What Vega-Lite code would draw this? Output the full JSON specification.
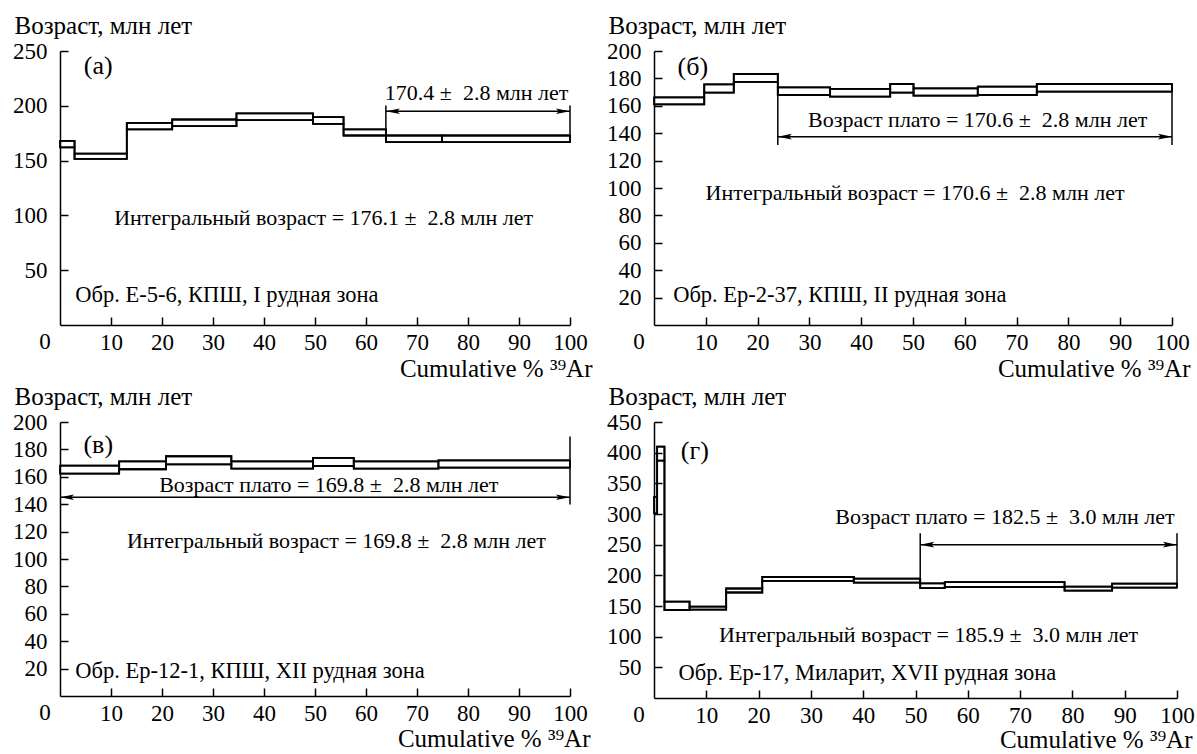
{
  "$schema": "https://vega.github.io/schema/vega-lite/v6.json",
  "padding": {"left": 12, "top": 13, "right": 0, "bottom": 0},
  "background": "white",
  "config": {
    "view": {"stroke": null},
    "font": "Liberation Serif, Times New Roman, DejaVu Serif, serif",
    "axis": {"grid": false, "domainColor": "black", "domainWidth": 1.5, "tickColor": "black", "tickWidth": 1.5,
      "labelColor": "black", "labelFont": "Liberation Serif, Times New Roman, DejaVu Serif, serif", "labelFontSize": 23, "labelOverlap": false, "labelFlush": false,
      "titleFont": "Liberation Serif, Times New Roman, DejaVu Serif, serif", "titleFontSize": 25, "titleFontWeight": "normal", "titleColor": "black"},
    "axisX": {"tickSize": -8, "labelPadding": 14, "titleAlign": "right", "titleY": 43, "titleBaseline": "middle", "titleFontSize": 25, "tickCount": 20},
    "axisY": {"tickSize": -8, "labelPadding": 21, "titleAngle": 0, "titleAlign": "left", "titleX": -46, "titleY": -26, "titleBaseline": "middle", "tickCount": 20},
    "text": {"font": "Liberation Serif, Times New Roman, DejaVu Serif, serif", "color": "black"}
  },
  "datasets": {
    "steps": [
      {"panel":"a","x0":0,"x1":2.85,"lo":162,"hi":168},
      {"panel":"a","x0":2.85,"x1":13.1,"lo":151.5,"hi":156.4},
      {"panel":"a","x0":13.1,"x1":22,"lo":178.4,"hi":184.5},
      {"panel":"a","x0":22,"x1":34.6,"lo":181.4,"hi":187.5},
      {"panel":"a","x0":34.6,"x1":49.6,"lo":187,"hi":193},
      {"panel":"a","x0":49.6,"x1":55.6,"lo":183.5,"hi":189.6},
      {"panel":"a","x0":55.6,"x1":63.9,"lo":172.9,"hi":178.4},
      {"panel":"a","x0":63.9,"x1":74.9,"lo":166.8,"hi":172.9},
      {"panel":"a","x0":74.9,"x1":100,"lo":166.8,"hi":172.9},
      {"panel":"b","x0":0,"x1":9.7,"lo":161.1,"hi":166.2},
      {"panel":"b","x0":9.7,"x1":15.4,"lo":169.6,"hi":175.7},
      {"panel":"b","x0":15.4,"x1":23.9,"lo":177.4,"hi":183.2},
      {"panel":"b","x0":23.9,"x1":34,"lo":167.9,"hi":173.5},
      {"panel":"b","x0":34,"x1":45.6,"lo":166.7,"hi":172.3},
      {"panel":"b","x0":45.6,"x1":50.1,"lo":169.6,"hi":175.9},
      {"panel":"b","x0":50.1,"x1":62.5,"lo":167.4,"hi":172.7},
      {"panel":"b","x0":62.5,"x1":73.9,"lo":167.9,"hi":174},
      {"panel":"b","x0":73.9,"x1":100,"lo":170.3,"hi":175.9},
      {"panel":"c","x0":0,"x1":11.6,"lo":162.3,"hi":168.2},
      {"panel":"c","x0":11.6,"x1":20.8,"lo":165.5,"hi":171.3},
      {"panel":"c","x0":20.8,"x1":33.6,"lo":169.1,"hi":175},
      {"panel":"c","x0":33.6,"x1":49.6,"lo":166,"hi":171.3},
      {"panel":"c","x0":49.6,"x1":57.6,"lo":167.9,"hi":173.8},
      {"panel":"c","x0":57.6,"x1":74.2,"lo":166,"hi":171.3},
      {"panel":"c","x0":74.2,"x1":100,"lo":166.7,"hi":172},
      {"panel":"d","x0":0,"x1":0.6,"lo":301,"hi":328},
      {"panel":"d","x0":0.6,"x1":2.0,"lo":387,"hi":410},
      {"panel":"d","x0":2.0,"x1":6.8,"lo":143.5,"hi":157},
      {"panel":"d","x0":6.8,"x1":13.8,"lo":144,"hi":149},
      {"panel":"d","x0":13.8,"x1":20.7,"lo":172,"hi":178.5},
      {"panel":"d","x0":20.7,"x1":38.2,"lo":191,"hi":197.3},
      {"panel":"d","x0":38.2,"x1":50.9,"lo":188,"hi":194.6},
      {"panel":"d","x0":50.9,"x1":55.6,"lo":179,"hi":187},
      {"panel":"d","x0":55.6,"x1":78.5,"lo":181,"hi":189},
      {"panel":"d","x0":78.5,"x1":87.6,"lo":175,"hi":181.7},
      {"panel":"d","x0":87.6,"x1":100,"lo":180,"hi":186.6}
    ],
    "arrows": [
      {"panel":"a","xa":63.9,"xb":100,"y":195},
      {"panel":"b","xa":23.9,"xb":100,"y":137.5},
      {"panel":"c","xa":0,"xb":100,"y":145.1},
      {"panel":"d","xa":50.9,"xb":100,"y":250}
    ],
    "ends": [
      {"panel":"a","x":63.9,"y1":166.8,"y2":200.3},
      {"panel":"a","x":100,"y1":166.8,"y2":200.3},
      {"panel":"b","x":23.9,"y1":131.4,"y2":173.5},
      {"panel":"b","x":100,"y1":131.4,"y2":175.9},
      {"panel":"c","x":100,"y1":139.7,"y2":189.5},
      {"panel":"d","x":50.9,"y1":187,"y2":268.8},
      {"panel":"d","x":100,"y1":180,"y2":268.8}
    ],
    "texts": [
      {"panel":"a","kind":"label","x":7.5,"y":236,"text":"(а)"},
      {"panel":"b","kind":"label","x":7.5,"y":188.6,"text":"(б)"},
      {"panel":"c","kind":"label","x":7.5,"y":183.5,"text":"(в)"},
      {"panel":"d","kind":"label","x":7.8,"y":403,"text":"(г)"},
      {"panel":"a","kind":"center","x":81.7,"y":212,"text":"170.4 ± \u00a02.8 млн лет"},
      {"panel":"a","kind":"center","x":51.7,"y":97.6,"text":"Интегральный возраст = 176.1 ± \u00a02.8 млн лет"},
      {"panel":"b","kind":"center","x":62.5,"y":149.6,"text":"Возраст плато = 170.6 ± \u00a02.8 млн лет"},
      {"panel":"b","kind":"center","x":50.4,"y":96,"text":"Интегральный возраст = 170.6 ± \u00a02.8 млн лет"},
      {"panel":"c","kind":"center","x":52.7,"y":154.3,"text":"Возраст плато = 169.8 ± \u00a02.8 млн лет"},
      {"panel":"c","kind":"center","x":54.2,"y":113,"text":"Интегральный возраст = 169.8 ± \u00a02.8 млн лет"},
      {"panel":"d","kind":"center","x":67.1,"y":295.7,"text":"Возраст плато = 182.5 ± \u00a03.0 млн лет"},
      {"panel":"d","kind":"center","x":52.5,"y":102,"text":"Интегральный возраст = 185.9 ± \u00a03.0 млн лет"},
      {"panel":"a","kind":"left","x":3.0,"y":27.4,"text":"Обр. Е-5-6, КПШ, I рудная зона"},
      {"panel":"b","kind":"left","x":3.7,"y":21.9,"text":"Обр. Ер-2-37, КПШ, II рудная зона"},
      {"panel":"c","kind":"left","x":3.0,"y":18.2,"text":"Обр. Ер-12-1, КПШ, XII рудная зона"},
      {"panel":"d","kind":"left","x":4.7,"y":40.3,"text":"Обр. Ер-17, Миларит, XVII рудная зона"}
    ]
  },
  "spacing": 3,
  "vconcat": [
    {"hconcat": [
      {"width": 510, "height": 274,
       "layer": [
        {"data": {"name": "steps"}, "transform": [{"filter": "datum.panel === 'a'"}],
         "mark": {"type": "rect", "filled": false, "color": "black", "strokeWidth": 1.8},
         "encoding": {
           "x": {"field": "x0", "type": "quantitative", "scale": {"domain": [0, 100], "nice": false}, "axis": {"title": "Cumulative % ³⁹Ar", "titleX": 532, "values": [10,20,30,40,50,60,70,80,90,100], "tickCount": 20, "labelOverlap": false, "tickSize": -8, "labelPadding": 14}},
           "x2": {"field": "x1"},
           "y": {"field": "lo", "type": "quantitative", "scale": {"domain": [0, 250], "nice": false}, "axis": {"title": "Возраст, млн лет", "values": [50,100,150,200,250], "tickCount": 20, "labelOverlap": false, "tickSize": -8, "labelPadding": 21}},
           "y2": {"field": "hi"}}},
        {"data": {"name": "steps"}, "transform": [{"filter": "datum.panel === 'a'"}, {"fold": ["x0","x1"], "as": ["k","xv"]}],
         "mark": {"type": "line", "color": "black", "strokeWidth": 1.8},
         "encoding": {"x": {"field": "xv", "type": "quantitative"}, "y": {"field": "hi", "type": "quantitative"}}},
        {"data": {"name": "steps"}, "transform": [{"filter": "datum.panel === 'a'"}, {"fold": ["x0","x1"], "as": ["k","xv"]}],
         "mark": {"type": "line", "color": "black", "strokeWidth": 1.8},
         "encoding": {"x": {"field": "xv", "type": "quantitative"}, "y": {"field": "lo", "type": "quantitative"}}},
        {"data": {"name": "arrows"}, "transform": [{"filter": "datum.panel === 'a'"}],
         "mark": {"type": "rule", "color": "black", "strokeWidth": 1.5},
         "encoding": {"x": {"field": "xa", "type": "quantitative"}, "x2": {"field": "xb"}, "y": {"field": "y", "type": "quantitative"}}},
        {"data": {"name": "arrows"}, "transform": [{"filter": "datum.panel === 'a'"}],
         "mark": {"type": "point", "filled": true, "color": "black", "opacity": 1, "size": 196, "shape": "M0,0L2,-0.4L1.6,0L2,0.4Z"},
         "encoding": {"x": {"field": "xa", "type": "quantitative"}, "y": {"field": "y", "type": "quantitative"}}},
        {"data": {"name": "arrows"}, "transform": [{"filter": "datum.panel === 'a'"}],
         "mark": {"type": "point", "filled": true, "color": "black", "opacity": 1, "size": 196, "shape": "M0,0L-2,-0.4L-1.6,0L-2,0.4Z"},
         "encoding": {"x": {"field": "xb", "type": "quantitative"}, "y": {"field": "y", "type": "quantitative"}}},
        {"data": {"name": "ends"}, "transform": [{"filter": "datum.panel === 'a'"}],
         "mark": {"type": "rule", "color": "black", "strokeWidth": 1.5},
         "encoding": {"x": {"field": "x", "type": "quantitative"}, "y": {"field": "y1", "type": "quantitative"}, "y2": {"field": "y2"}}},
        {"data": {"name": "texts"}, "transform": [{"filter": "datum.panel === 'a' && datum.kind === 'label'"}],
         "mark": {"type": "text", "fontSize": 26, "align": "center", "baseline": "middle"},
         "encoding": {"x": {"field": "x", "type": "quantitative"}, "y": {"field": "y", "type": "quantitative"}, "text": {"field": "text"}}},
        {"data": {"name": "texts"}, "transform": [{"filter": "datum.panel === 'a' && datum.kind === 'center'"}],
         "mark": {"type": "text", "fontSize": 22, "align": "center", "baseline": "middle"},
         "encoding": {"x": {"field": "x", "type": "quantitative"}, "y": {"field": "y", "type": "quantitative"}, "text": {"field": "text"}}},
        {"data": {"name": "texts"}, "transform": [{"filter": "datum.panel === 'a' && datum.kind === 'left'"}],
         "mark": {"type": "text", "fontSize": 22.5, "align": "left", "baseline": "middle"},
         "encoding": {"x": {"field": "x", "type": "quantitative"}, "y": {"field": "y", "type": "quantitative"}, "text": {"field": "text"}}},
        {"data": {"values": [{"v": 0}]},
         "mark": {"type": "text", "fontSize": 23, "align": "center", "baseline": "top", "dx": -15, "dy": 6},
         "encoding": {"x": {"field": "v", "type": "quantitative"}, "y": {"field": "v", "type": "quantitative"}, "text": {"field": "v"}}}
       ]},
      {"width": 518, "height": 274,
       "layer": [
        {"data": {"name": "steps"}, "transform": [{"filter": "datum.panel === 'b'"}],
         "mark": {"type": "rect", "filled": false, "color": "black", "strokeWidth": 1.8},
         "encoding": {
           "x": {"field": "x0", "type": "quantitative", "scale": {"domain": [0, 100], "nice": false}, "axis": {"title": "Cumulative % ³⁹Ar", "titleX": 536, "values": [10,20,30,40,50,60,70,80,90,100], "tickCount": 20, "labelOverlap": false, "tickSize": -8, "labelPadding": 14}},
           "x2": {"field": "x1"},
           "y": {"field": "lo", "type": "quantitative", "scale": {"domain": [0, 200], "nice": false}, "axis": {"title": "Возраст, млн лет", "values": [20,40,60,80,100,120,140,160,180,200], "tickCount": 20, "labelOverlap": false, "tickSize": -8, "labelPadding": 21}},
           "y2": {"field": "hi"}}},
        {"data": {"name": "steps"}, "transform": [{"filter": "datum.panel === 'b'"}, {"fold": ["x0","x1"], "as": ["k","xv"]}],
         "mark": {"type": "line", "color": "black", "strokeWidth": 1.8},
         "encoding": {"x": {"field": "xv", "type": "quantitative"}, "y": {"field": "hi", "type": "quantitative"}}},
        {"data": {"name": "steps"}, "transform": [{"filter": "datum.panel === 'b'"}, {"fold": ["x0","x1"], "as": ["k","xv"]}],
         "mark": {"type": "line", "color": "black", "strokeWidth": 1.8},
         "encoding": {"x": {"field": "xv", "type": "quantitative"}, "y": {"field": "lo", "type": "quantitative"}}},
        {"data": {"name": "arrows"}, "transform": [{"filter": "datum.panel === 'b'"}],
         "mark": {"type": "rule", "color": "black", "strokeWidth": 1.5},
         "encoding": {"x": {"field": "xa", "type": "quantitative"}, "x2": {"field": "xb"}, "y": {"field": "y", "type": "quantitative"}}},
        {"data": {"name": "arrows"}, "transform": [{"filter": "datum.panel === 'b'"}],
         "mark": {"type": "point", "filled": true, "color": "black", "opacity": 1, "size": 196, "shape": "M0,0L2,-0.4L1.6,0L2,0.4Z"},
         "encoding": {"x": {"field": "xa", "type": "quantitative"}, "y": {"field": "y", "type": "quantitative"}}},
        {"data": {"name": "arrows"}, "transform": [{"filter": "datum.panel === 'b'"}],
         "mark": {"type": "point", "filled": true, "color": "black", "opacity": 1, "size": 196, "shape": "M0,0L-2,-0.4L-1.6,0L-2,0.4Z"},
         "encoding": {"x": {"field": "xb", "type": "quantitative"}, "y": {"field": "y", "type": "quantitative"}}},
        {"data": {"name": "ends"}, "transform": [{"filter": "datum.panel === 'b'"}],
         "mark": {"type": "rule", "color": "black", "strokeWidth": 1.5},
         "encoding": {"x": {"field": "x", "type": "quantitative"}, "y": {"field": "y1", "type": "quantitative"}, "y2": {"field": "y2"}}},
        {"data": {"name": "texts"}, "transform": [{"filter": "datum.panel === 'b' && datum.kind === 'label'"}],
         "mark": {"type": "text", "fontSize": 26, "align": "center", "baseline": "middle"},
         "encoding": {"x": {"field": "x", "type": "quantitative"}, "y": {"field": "y", "type": "quantitative"}, "text": {"field": "text"}}},
        {"data": {"name": "texts"}, "transform": [{"filter": "datum.panel === 'b' && datum.kind === 'center'"}],
         "mark": {"type": "text", "fontSize": 22, "align": "center", "baseline": "middle"},
         "encoding": {"x": {"field": "x", "type": "quantitative"}, "y": {"field": "y", "type": "quantitative"}, "text": {"field": "text"}}},
        {"data": {"name": "texts"}, "transform": [{"filter": "datum.panel === 'b' && datum.kind === 'left'"}],
         "mark": {"type": "text", "fontSize": 22.5, "align": "left", "baseline": "middle"},
         "encoding": {"x": {"field": "x", "type": "quantitative"}, "y": {"field": "y", "type": "quantitative"}, "text": {"field": "text"}}},
        {"data": {"values": [{"v": 0}]},
         "mark": {"type": "text", "fontSize": 23, "align": "center", "baseline": "top", "dx": -15, "dy": 6},
         "encoding": {"x": {"field": "v", "type": "quantitative"}, "y": {"field": "v", "type": "quantitative"}, "text": {"field": "v"}}}
       ]}
    ], "spacing": 84, "bounds": "flush"},
    {"hconcat": [
      {"width": 510, "height": 274,
       "layer": [
        {"data": {"name": "steps"}, "transform": [{"filter": "datum.panel === 'c'"}],
         "mark": {"type": "rect", "filled": false, "color": "black", "strokeWidth": 1.8},
         "encoding": {
           "x": {"field": "x0", "type": "quantitative", "scale": {"domain": [0, 100], "nice": false}, "axis": {"title": "Cumulative % ³⁹Ar", "titleX": 530, "titleY": 42, "values": [10,20,30,40,50,60,70,80,90,100], "tickCount": 20, "labelOverlap": false, "tickSize": -8, "labelPadding": 14}},
           "x2": {"field": "x1"},
           "y": {"field": "lo", "type": "quantitative", "scale": {"domain": [0, 200], "nice": false}, "axis": {"title": "Возраст, млн лет", "values": [20,40,60,80,100,120,140,160,180,200], "tickCount": 20, "labelOverlap": false, "tickSize": -8, "labelPadding": 21}},
           "y2": {"field": "hi"}}},
        {"data": {"name": "steps"}, "transform": [{"filter": "datum.panel === 'c'"}, {"fold": ["x0","x1"], "as": ["k","xv"]}],
         "mark": {"type": "line", "color": "black", "strokeWidth": 1.8},
         "encoding": {"x": {"field": "xv", "type": "quantitative"}, "y": {"field": "hi", "type": "quantitative"}}},
        {"data": {"name": "steps"}, "transform": [{"filter": "datum.panel === 'c'"}, {"fold": ["x0","x1"], "as": ["k","xv"]}],
         "mark": {"type": "line", "color": "black", "strokeWidth": 1.8},
         "encoding": {"x": {"field": "xv", "type": "quantitative"}, "y": {"field": "lo", "type": "quantitative"}}},
        {"data": {"name": "arrows"}, "transform": [{"filter": "datum.panel === 'c'"}],
         "mark": {"type": "rule", "color": "black", "strokeWidth": 1.5},
         "encoding": {"x": {"field": "xa", "type": "quantitative"}, "x2": {"field": "xb"}, "y": {"field": "y", "type": "quantitative"}}},
        {"data": {"name": "arrows"}, "transform": [{"filter": "datum.panel === 'c'"}],
         "mark": {"type": "point", "filled": true, "color": "black", "opacity": 1, "size": 196, "shape": "M0,0L2,-0.4L1.6,0L2,0.4Z"},
         "encoding": {"x": {"field": "xa", "type": "quantitative"}, "y": {"field": "y", "type": "quantitative"}}},
        {"data": {"name": "arrows"}, "transform": [{"filter": "datum.panel === 'c'"}],
         "mark": {"type": "point", "filled": true, "color": "black", "opacity": 1, "size": 196, "shape": "M0,0L-2,-0.4L-1.6,0L-2,0.4Z"},
         "encoding": {"x": {"field": "xb", "type": "quantitative"}, "y": {"field": "y", "type": "quantitative"}}},
        {"data": {"name": "ends"}, "transform": [{"filter": "datum.panel === 'c'"}],
         "mark": {"type": "rule", "color": "black", "strokeWidth": 1.5},
         "encoding": {"x": {"field": "x", "type": "quantitative"}, "y": {"field": "y1", "type": "quantitative"}, "y2": {"field": "y2"}}},
        {"data": {"name": "texts"}, "transform": [{"filter": "datum.panel === 'c' && datum.kind === 'label'"}],
         "mark": {"type": "text", "fontSize": 26, "align": "center", "baseline": "middle"},
         "encoding": {"x": {"field": "x", "type": "quantitative"}, "y": {"field": "y", "type": "quantitative"}, "text": {"field": "text"}}},
        {"data": {"name": "texts"}, "transform": [{"filter": "datum.panel === 'c' && datum.kind === 'center'"}],
         "mark": {"type": "text", "fontSize": 22, "align": "center", "baseline": "middle"},
         "encoding": {"x": {"field": "x", "type": "quantitative"}, "y": {"field": "y", "type": "quantitative"}, "text": {"field": "text"}}},
        {"data": {"name": "texts"}, "transform": [{"filter": "datum.panel === 'c' && datum.kind === 'left'"}],
         "mark": {"type": "text", "fontSize": 22.5, "align": "left", "baseline": "middle"},
         "encoding": {"x": {"field": "x", "type": "quantitative"}, "y": {"field": "y", "type": "quantitative"}, "text": {"field": "text"}}},
        {"data": {"values": [{"v": 0}]},
         "mark": {"type": "text", "fontSize": 23, "align": "center", "baseline": "top", "dx": -15, "dy": 6},
         "encoding": {"x": {"field": "v", "type": "quantitative"}, "y": {"field": "v", "type": "quantitative"}, "text": {"field": "v"}}}
       ]},
      {"width": 523, "height": 276,
       "layer": [
        {"data": {"name": "steps"}, "transform": [{"filter": "datum.panel === 'd'"}],
         "mark": {"type": "rect", "filled": false, "color": "black", "strokeWidth": 1.8},
         "encoding": {
           "x": {"field": "x0", "type": "quantitative", "scale": {"domain": [0, 100], "nice": false}, "axis": {"title": "Cumulative % ³⁹Ar", "titleX": 538, "titleY": 41, "values": [10,20,30,40,50,60,70,80,90,100], "tickCount": 20, "labelOverlap": false, "tickSize": -8, "labelPadding": 14}},
           "x2": {"field": "x1"},
           "y": {"field": "lo", "type": "quantitative", "scale": {"domain": [0, 450], "nice": false}, "axis": {"title": "Возраст, млн лет", "values": [50,100,150,200,250,300,350,400,450], "tickCount": 20, "labelOverlap": false, "tickSize": -8, "labelPadding": 21}},
           "y2": {"field": "hi"}}},
        {"data": {"name": "steps"}, "transform": [{"filter": "datum.panel === 'd'"}, {"fold": ["x0","x1"], "as": ["k","xv"]}],
         "mark": {"type": "line", "color": "black", "strokeWidth": 1.8},
         "encoding": {"x": {"field": "xv", "type": "quantitative"}, "y": {"field": "hi", "type": "quantitative"}}},
        {"data": {"name": "steps"}, "transform": [{"filter": "datum.panel === 'd'"}, {"fold": ["x0","x1"], "as": ["k","xv"]}],
         "mark": {"type": "line", "color": "black", "strokeWidth": 1.8},
         "encoding": {"x": {"field": "xv", "type": "quantitative"}, "y": {"field": "lo", "type": "quantitative"}}},
        {"data": {"name": "arrows"}, "transform": [{"filter": "datum.panel === 'd'"}],
         "mark": {"type": "rule", "color": "black", "strokeWidth": 1.5},
         "encoding": {"x": {"field": "xa", "type": "quantitative"}, "x2": {"field": "xb"}, "y": {"field": "y", "type": "quantitative"}}},
        {"data": {"name": "arrows"}, "transform": [{"filter": "datum.panel === 'd'"}],
         "mark": {"type": "point", "filled": true, "color": "black", "opacity": 1, "size": 196, "shape": "M0,0L2,-0.4L1.6,0L2,0.4Z"},
         "encoding": {"x": {"field": "xa", "type": "quantitative"}, "y": {"field": "y", "type": "quantitative"}}},
        {"data": {"name": "arrows"}, "transform": [{"filter": "datum.panel === 'd'"}],
         "mark": {"type": "point", "filled": true, "color": "black", "opacity": 1, "size": 196, "shape": "M0,0L-2,-0.4L-1.6,0L-2,0.4Z"},
         "encoding": {"x": {"field": "xb", "type": "quantitative"}, "y": {"field": "y", "type": "quantitative"}}},
        {"data": {"name": "ends"}, "transform": [{"filter": "datum.panel === 'd'"}],
         "mark": {"type": "rule", "color": "black", "strokeWidth": 1.5},
         "encoding": {"x": {"field": "x", "type": "quantitative"}, "y": {"field": "y1", "type": "quantitative"}, "y2": {"field": "y2"}}},
        {"data": {"name": "texts"}, "transform": [{"filter": "datum.panel === 'd' && datum.kind === 'label'"}],
         "mark": {"type": "text", "fontSize": 26, "align": "center", "baseline": "middle"},
         "encoding": {"x": {"field": "x", "type": "quantitative"}, "y": {"field": "y", "type": "quantitative"}, "text": {"field": "text"}}},
        {"data": {"name": "texts"}, "transform": [{"filter": "datum.panel === 'd' && datum.kind === 'center'"}],
         "mark": {"type": "text", "fontSize": 22, "align": "center", "baseline": "middle"},
         "encoding": {"x": {"field": "x", "type": "quantitative"}, "y": {"field": "y", "type": "quantitative"}, "text": {"field": "text"}}},
        {"data": {"name": "texts"}, "transform": [{"filter": "datum.panel === 'd' && datum.kind === 'left'"}],
         "mark": {"type": "text", "fontSize": 22.5, "align": "left", "baseline": "middle"},
         "encoding": {"x": {"field": "x", "type": "quantitative"}, "y": {"field": "y", "type": "quantitative"}, "text": {"field": "text"}}},
        {"data": {"values": [{"v": 0}]},
         "mark": {"type": "text", "fontSize": 23, "align": "center", "baseline": "top", "dx": -15, "dy": 6},
         "encoding": {"x": {"field": "v", "type": "quantitative"}, "y": {"field": "v", "type": "quantitative"}, "text": {"field": "v"}}}
       ]}
    ], "spacing": 84, "bounds": "flush"}
  ]
}
